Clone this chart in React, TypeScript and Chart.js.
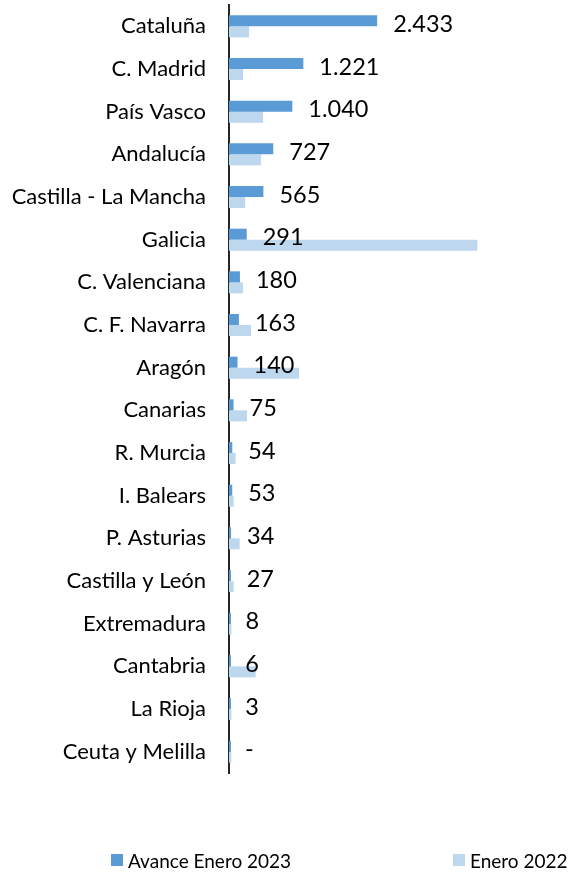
import React, { useEffect, useRef } from "react";
import { Chart, registerables } from "chart.js";

Chart.register(...registerables);

const categories = [
  "Cataluña",
  "C. Madrid",
  "País Vasco",
  "Andalucía",
  "Castilla - La Mancha",
  "Galicia",
  "C. Valenciana",
  "C. F. Navarra",
  "Aragón",
  "Canarias",
  "R. Murcia",
  "I. Balears",
  "P. Asturias",
  "Castilla y León",
  "Extremadura",
  "Cantabria",
  "La Rioja",
  "Ceuta y Melilla",
];

const avance2023 = [2433, 1221, 1040, 727, 565, 291, 180, 163, 140, 75, 54, 53, 34, 27, 8, 6, 3, 0];
const enero2022 = [330, 230, 560, 525, 265, 4080, 230, 360, 1150, 296, 108, 76, 175, 76, 40, 437, 40, 38];

const seriesNames = ["Avance Enero 2023", "Enero 2022"];
const seriesColors = ["#5B9BD5", "#BDD7EE"];

const FONT = "Lato, 'Open Sans', sans-serif";

function fmt(v: number): string {
  if (v === 0) return "-";
  return v.toLocaleString("de-DE");
}

const labelPlugin = {
  id: "valueLabels",
  afterDatasetsDraw(chart: any) {
    const ctx = chart.ctx;
    const meta = chart.getDatasetMeta(0);
    const yScale = chart.scales.y;
    const xScale = chart.scales.x;
    ctx.save();
    ctx.fillStyle = "#000000";
    ctx.font = `23.5px ${FONT}`;
    ctx.textAlign = "left";
    ctx.textBaseline = "alphabetic";
    meta.data.forEach((el: any, i: number) => {
      const v = avance2023[i];
      const x = xScale.getPixelForValue(v) + 16;
      const y = yScale.getPixelForValue(i) + 5.5;
      ctx.fillText(fmt(v), x, y);
    });
    ctx.restore();
  },
};

const legendPlugin = {
  id: "customLegend",
  afterDraw(chart: any) {
    const ctx = chart.ctx;
    const items = [
      { x: 111, text: seriesNames[0], color: seriesColors[0] },
      { x: 453, text: seriesNames[1], color: seriesColors[1] },
    ];
    ctx.save();
    ctx.font = `19px ${FONT}`;
    ctx.textBaseline = "alphabetic";
    ctx.textAlign = "left";
    items.forEach((it) => {
      ctx.fillStyle = it.color;
      ctx.fillRect(it.x, 854, 12, 12);
      ctx.fillStyle = "#000000";
      ctx.fillText(it.text, it.x + 17, 868);
    });
    ctx.restore();
  },
};

export default function App() {
  const canvasRef = useRef<HTMLCanvasElement | null>(null);

  useEffect(() => {
    document.body.style.margin = "0";
    const canvas = canvasRef.current;
    if (!canvas) return;
    const chart = new Chart(canvas, {
      type: "bar",
      data: {
        labels: categories,
        datasets: [
          {
            label: seriesNames[0],
            data: avance2023,
            backgroundColor: seriesColors[0],
            categoryPercentage: 0.516,
            barPercentage: 1,
            minBarLength: 2,
          },
          {
            label: seriesNames[1],
            data: enero2022,
            backgroundColor: seriesColors[1],
            categoryPercentage: 0.516,
            barPercentage: 1,
          },
        ],
      },
      options: {
        indexAxis: "y",
        animation: false,
        responsive: false,
        maintainAspectRatio: false,
        layout: { padding: { top: 5, bottom: 99, right: 67, left: 0 } },
        plugins: {
          legend: { display: false },
          tooltip: { enabled: false },
        },
        scales: {
          x: {
            display: false,
            min: 0,
            max: 4500,
          },
          y: {
            afterFit(scale: any) {
              scale.width = 229;
              scale.paddingTop = 0;
              scale.paddingBottom = 0;
            },
            grid: { display: false, drawTicks: false },
            border: { display: true, color: "#262626", width: 2 },
            ticks: {
              color: "#000000",
              padding: 23,
              font: { family: FONT, size: 22 },
            },
          },
        },
      },
      plugins: [labelPlugin, legendPlugin],
    } as any);
    return () => chart.destroy();
  }, []);

  return (
    <div style={{ width: 570, height: 872 }}>
      <canvas ref={canvasRef} width={570} height={872} style={{ display: "block" }} />
    </div>
  );
}
